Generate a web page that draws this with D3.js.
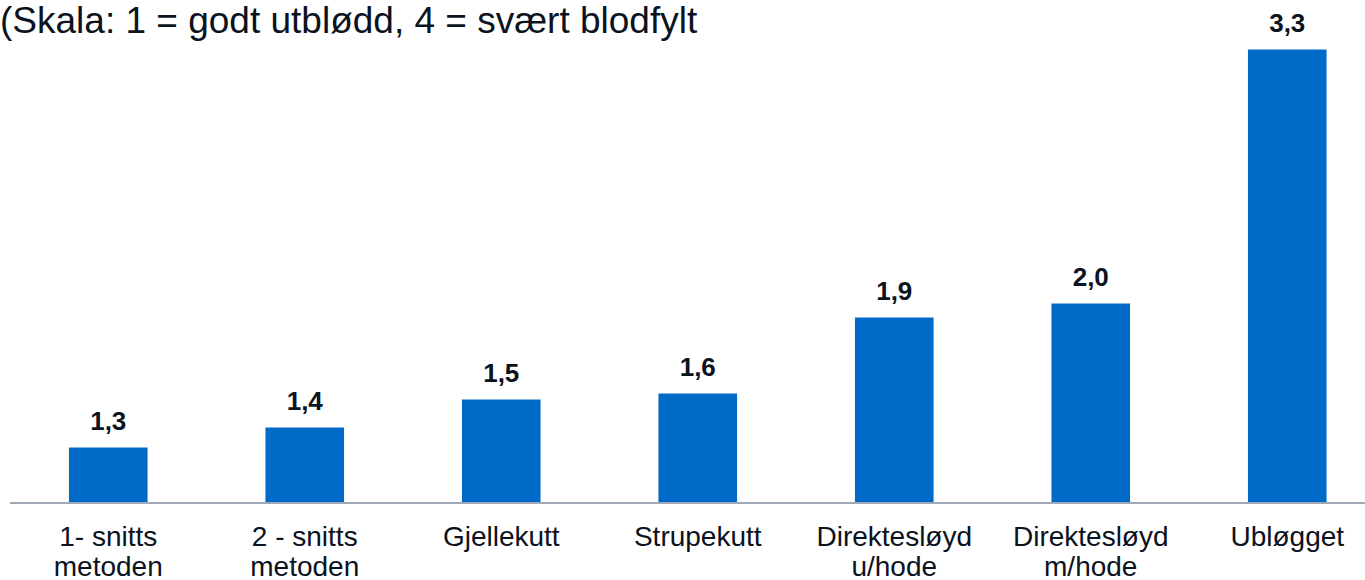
<!DOCTYPE html>
<html>
<head>
<meta charset="utf-8">
<script src="https://cdn.jsdelivr.net/npm/d3@7"></script>
<style>
  html, body { margin: 0; padding: 0; background: #fff; }
  svg { display: block; font-family: "Liberation Sans", Arial, sans-serif; }
</style>
</head>
<body>
<div id="chart"></div>
<script>
// categories (two-line labels) and mean scores
const categories = ["1- snitts metoden", "2 - snitts metoden", "Gjellekutt", "Strupekutt",
  "Direktesløyd u/hode", "Direktesløyd m/hode", "Ubløgget"];
const labelLines = [["1- snitts", "metoden"], ["2 - snitts", "metoden"], ["Gjellekutt"], ["Strupekutt"],
  ["Direktesløyd", "u/hode"], ["Direktesløyd", "m/hode"], ["Ubløgget"]];
const values = [1.29, 1.39, 1.53, 1.56, 1.94, 2.01, 3.28];
const title = "(Skala: 1 = godt utblødd, 4 = svært blodfylt";

const width = 1365, height = 580;
const margin = {left: 10, bottom: 77.5};
const baseY = height - margin.bottom;

const svg = d3.select("#chart").append("svg")
  .attr("width", width)
  .attr("height", height);

// x band scale, runs a bit past the right edge like the original
const x = d3.scaleBand()
  .domain(categories)
  .range([margin.left, margin.left + 196.5 * 7])
  .paddingInner(0.6)
  .paddingOuter(0.3);

// y starts near 1 (the scale minimum)
const y = d3.scaleLinear()
  .domain([1.015, 3.5])
  .range([baseY, baseY - 200 * (3.5 - 1.015)]);

const fmt = v => d3.format(".1f")(v).replace(".", ",");

// title
svg.append("text")
  .attr("x", 0)
  .attr("y", 33)
  .attr("font-size", 37)
  .attr("fill", "#0b1220")
  .text(title);

// bars
svg.selectAll("rect.bar")
  .data(values)
  .enter()
  .append("rect")
  .attr("class", "bar")
  .attr("x", (d, i) => x(categories[i]))
  .attr("y", d => y(d))
  .attr("width", x.bandwidth())
  .attr("height", d => baseY - y(d))
  .attr("fill", "#006ac8");

// value labels
svg.selectAll("text.val")
  .data(values)
  .enter()
  .append("text")
  .attr("class", "val")
  .attr("x", (d, i) => x(categories[i]) + x.bandwidth() / 2)
  .attr("y", d => y(d) - 17.5)
  .attr("text-anchor", "middle")
  .attr("font-size", 26)
  .attr("font-weight", "bold")
  .attr("fill", "#0b1220")
  .text(d => fmt(d));

// baseline axis
svg.append("line")
  .attr("x1", margin.left)
  .attr("x2", width)
  .attr("y1", baseY + 0.5)
  .attr("y2", baseY + 0.5)
  .attr("stroke", "#a3a8b8")
  .attr("stroke-width", 2);

// category labels
const cat = svg.selectAll("text.cat")
  .data(categories)
  .enter()
  .append("text")
  .attr("class", "cat")
  .attr("x", d => x(d) + x.bandwidth() / 2)
  .attr("y", baseY + 43.5)
  .attr("text-anchor", "middle")
  .attr("font-size", 28)
  .attr("fill", "#0b1220");

cat.each(function(d, i) {
  d3.select(this).selectAll("tspan")
    .data(labelLines[i])
    .enter()
    .append("tspan")
    .attr("x", x(d) + x.bandwidth() / 2)
    .attr("dy", (t, j) => j === 0 ? 0 : 30)
    .text(t => t);
});
</script>
</body>
</html>
